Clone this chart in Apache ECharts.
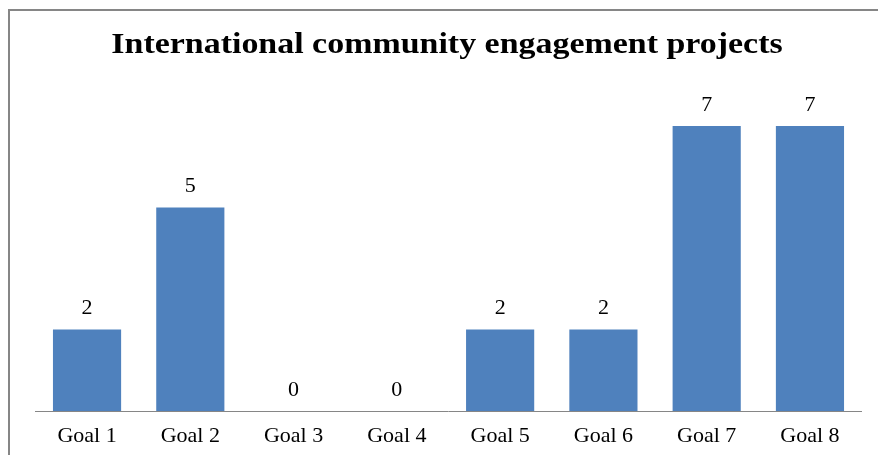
<!DOCTYPE html>
<html>
<head>
<meta charset="utf-8">
<script src="https://cdn.jsdelivr.net/npm/echarts@6/dist/echarts.min.js"></script>
<style>
  html, body { margin: 0; padding: 0; background: #ffffff; }
  #chart { width: 878px; height: 455px; }
</style>
</head>
<body>
<div id="chart"></div>
<script>
// Projects per goal
const goals = ['Goal 1', 'Goal 2', 'Goal 3', 'Goal 4', 'Goal 5', 'Goal 6', 'Goal 7', 'Goal 8'];
const projectCounts = [2, 5, 0, 0, 2, 2, 7, 7];
const chartTitle = 'International community engagement projects';

const serif = '"Liberation Serif", "DejaVu Serif", serif';

const chart = echarts.init(document.getElementById('chart'), null, { renderer: 'canvas' });
chart.setOption({
  animation: false,
  backgroundColor: '#ffffff',
  graphic: [
    {
      // outer frame (runs off the right and bottom edges)
      type: 'rect',
      x: 9, y: 10,
      shape: { x: 0, y: 0, width: 900, height: 480 },
      style: { fill: 'none', stroke: '#868686', lineWidth: 2 },
      silent: true
    },
    {
      // heading, drawn slightly widened
      type: 'text',
      x: 447, y: 46,
      scaleX: 1.17,
      style: {
        x: 0, y: 0,
        text: chartTitle,
        textAlign: 'center',
        textVerticalAlign: 'middle',
        font: 'bold 29px ' + serif,
        fill: '#000000'
      },
      silent: true
    }
  ],
  grid: { left: 35.4, right: 16.4, top: 85.3, bottom: 44, containLabel: false },
  xAxis: {
    type: 'category',
    data: goals,
    axisLine: { lineStyle: { color: '#868686', width: 1 } },
    axisTick: { show: false },
    axisLabel: { fontFamily: serif, fontSize: 22, color: '#000000', margin: 14 }
  },
  yAxis: {
    type: 'value',
    min: 0, max: 8,
    show: false,
    splitLine: { show: false }
  },
  series: [{
    type: 'bar',
    data: projectCounts,
    barCategoryGap: '34%',
    itemStyle: { color: '#4F81BD' },
    label: {
      show: true,
      position: 'top',
      distance: 10,
      fontFamily: serif,
      fontSize: 22,
      color: '#000000'
    }
  }]
});
</script>
</body>
</html>
